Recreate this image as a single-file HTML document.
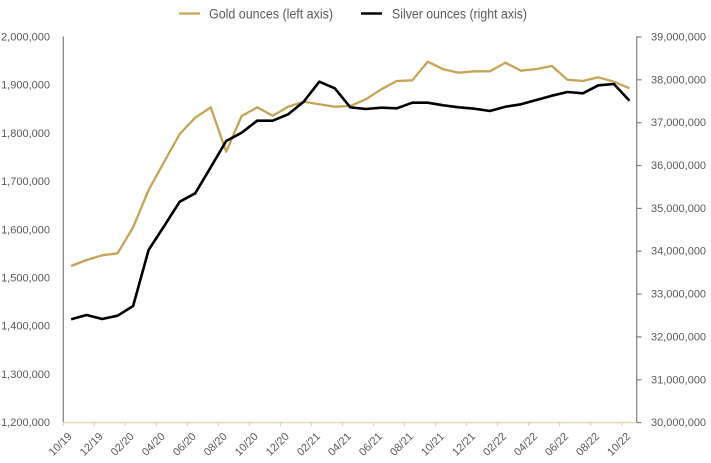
<!DOCTYPE html>
<html>
<head>
<meta charset="utf-8">
<style>
html,body{margin:0;padding:0;background:#fff;}
svg{display:block;}
text{font-family:"Liberation Sans",Arial,sans-serif;fill:#595959;}
</style>
</head>
<body>
<svg width="711" height="463" viewBox="0 0 711 463" xmlns="http://www.w3.org/2000/svg">
<rect width="711" height="463" fill="#fff"/>
<!-- legend -->
<line x1="179" y1="13.5" x2="200" y2="13.5" stroke="#C5A456" stroke-width="2.2"/>
<text x="209" y="18.5" font-size="13.5" textLength="124" lengthAdjust="spacingAndGlyphs">Gold ounces (left axis)</text>
<line x1="361" y1="13.5" x2="382" y2="13.5" stroke="#000" stroke-width="2.5"/>
<text x="392" y="18.5" font-size="13.5" textLength="135" lengthAdjust="spacingAndGlyphs">Silver ounces (right axis)</text>

<!-- left axis labels -->
<g font-size="11" text-anchor="end">
<text x="50" y="40.5">2,000,000</text>
<text x="50" y="88.7">1,900,000</text>
<text x="50" y="136.9">1,800,000</text>
<text x="50" y="185.1">1,700,000</text>
<text x="50" y="233.3">1,600,000</text>
<text x="50" y="281.5">1,500,000</text>
<text x="50" y="329.7">1,400,000</text>
<text x="50" y="377.9">1,300,000</text>
<text x="50" y="426.1">1,200,000</text>
</g>
<!-- right axis labels -->
<g font-size="11" text-anchor="start">
<text x="651" y="40.5">39,000,000</text>
<text x="651" y="83.3">38,000,000</text>
<text x="651" y="126.2">37,000,000</text>
<text x="651" y="169.0">36,000,000</text>
<text x="651" y="211.9">35,000,000</text>
<text x="651" y="254.7">34,000,000</text>
<text x="651" y="297.6">33,000,000</text>
<text x="651" y="340.4">32,000,000</text>
<text x="651" y="383.3">31,000,000</text>
<text x="651" y="426.1">30,000,000</text>
</g>

<!-- axes -->
<line x1="63.3" y1="36.5" x2="63.3" y2="422.6" stroke="#7f7f7f" stroke-width="1.2"/>
<line x1="636.7" y1="36.5" x2="636.7" y2="422.6" stroke="#7f7f7f" stroke-width="1.2"/>
<g stroke="#7f7f7f" stroke-width="1.2">
<line x1="636.7" y1="37" x2="641.5" y2="37"/>
<line x1="636.7" y1="79.8" x2="641.5" y2="79.8"/>
<line x1="636.7" y1="122.7" x2="641.5" y2="122.7"/>
<line x1="636.7" y1="165.5" x2="641.5" y2="165.5"/>
<line x1="636.7" y1="208.4" x2="641.5" y2="208.4"/>
<line x1="636.7" y1="251.2" x2="641.5" y2="251.2"/>
<line x1="636.7" y1="294.1" x2="641.5" y2="294.1"/>
<line x1="636.7" y1="336.9" x2="641.5" y2="336.9"/>
<line x1="636.7" y1="379.8" x2="641.5" y2="379.8"/>
<line x1="636.7" y1="422.6" x2="641.5" y2="422.6"/>
</g>
<line x1="63.3" y1="422.6" x2="636.7" y2="422.6" stroke="#E3D6AC" stroke-width="1.4"/>
<g stroke="#E3D6AC" stroke-width="1.2">
<line x1="63.3" y1="422.6" x2="63.3" y2="426"/>
<line x1="94.3" y1="422.6" x2="94.3" y2="426"/>
<line x1="125.3" y1="422.6" x2="125.3" y2="426"/>
<line x1="156.4" y1="422.6" x2="156.4" y2="426"/>
<line x1="187.4" y1="422.6" x2="187.4" y2="426"/>
<line x1="218.4" y1="422.6" x2="218.4" y2="426"/>
<line x1="249.4" y1="422.6" x2="249.4" y2="426"/>
<line x1="280.4" y1="422.6" x2="280.4" y2="426"/>
<line x1="311.5" y1="422.6" x2="311.5" y2="426"/>
<line x1="342.5" y1="422.6" x2="342.5" y2="426"/>
<line x1="373.5" y1="422.6" x2="373.5" y2="426"/>
<line x1="404.5" y1="422.6" x2="404.5" y2="426"/>
<line x1="435.6" y1="422.6" x2="435.6" y2="426"/>
<line x1="466.6" y1="422.6" x2="466.6" y2="426"/>
<line x1="497.6" y1="422.6" x2="497.6" y2="426"/>
<line x1="528.6" y1="422.6" x2="528.6" y2="426"/>
<line x1="559.6" y1="422.6" x2="559.6" y2="426"/>
<line x1="590.7" y1="422.6" x2="590.7" y2="426"/>
<line x1="621.7" y1="422.6" x2="621.7" y2="426"/>
</g>

<!-- x labels -->
<g font-size="11" text-anchor="end">
<text transform="translate(72.6,437) rotate(-45)">10/19</text>
<text transform="translate(103.6,437) rotate(-45)">12/19</text>
<text transform="translate(134.6,437) rotate(-45)">02/20</text>
<text transform="translate(165.7,437) rotate(-45)">04/20</text>
<text transform="translate(196.7,437) rotate(-45)">06/20</text>
<text transform="translate(227.7,437) rotate(-45)">08/20</text>
<text transform="translate(258.7,437) rotate(-45)">10/20</text>
<text transform="translate(289.7,437) rotate(-45)">12/20</text>
<text transform="translate(320.8,437) rotate(-45)">02/21</text>
<text transform="translate(351.8,437) rotate(-45)">04/21</text>
<text transform="translate(382.8,437) rotate(-45)">06/21</text>
<text transform="translate(413.8,437) rotate(-45)">08/21</text>
<text transform="translate(444.8,437) rotate(-45)">10/21</text>
<text transform="translate(475.9,437) rotate(-45)">12/21</text>
<text transform="translate(506.9,437) rotate(-45)">02/22</text>
<text transform="translate(537.9,437) rotate(-45)">04/22</text>
<text transform="translate(568.9,437) rotate(-45)">06/22</text>
<text transform="translate(599.9,437) rotate(-45)">08/22</text>
<text transform="translate(631,437) rotate(-45)">10/22</text>
</g>

<!-- gold series -->
<polyline fill="none" stroke="#C5A456" stroke-width="2.3" stroke-linejoin="round" points="
71.1,266 86.6,260 102.1,255.3 117.6,253.3 133.1,227.3 148.6,190 164.2,161.7 179.7,134 195.2,117.7 210.7,107.3
226.2,151.7 241.7,116 257.2,107.3 272.7,115.7 288.2,106.7 303.7,101.7 319.3,104.3 334.8,106.7 350.3,106 365.8,99.3
381.3,89.3 396.8,81 412.3,80.3 427.8,61.7 443.3,69.3 458.8,72.7 474.4,71.3 489.9,71.3 505.4,62.7 520.9,70.7
536.4,69 551.9,66 567.4,79.7 582.9,81 598.4,77.3 613.9,81.7 629.5,88.3"/>

<!-- silver series -->
<polyline fill="none" stroke="#000" stroke-width="2.6" stroke-linejoin="round" points="
71.1,319.3 86.6,315 102.1,319 117.6,315.7 133.1,306 148.6,250 164.2,226 179.7,201.7 195.2,193.3 210.7,167.3
226.2,141 241.7,132.7 257.2,120.7 272.7,120.7 288.2,114.3 303.7,101.7 319.3,81.7 334.8,88.3 350.3,107.3 365.8,109
381.3,107.7 396.8,108.3 412.3,102.7 427.8,102.7 443.3,105.3 458.8,107.3 474.4,108.7 489.9,111 505.4,106.7 520.9,104.3
536.4,100 551.9,95.7 567.4,92 582.9,93.3 598.4,85.3 613.9,84 629.5,100.7"/>
</svg>
</body>
</html>
